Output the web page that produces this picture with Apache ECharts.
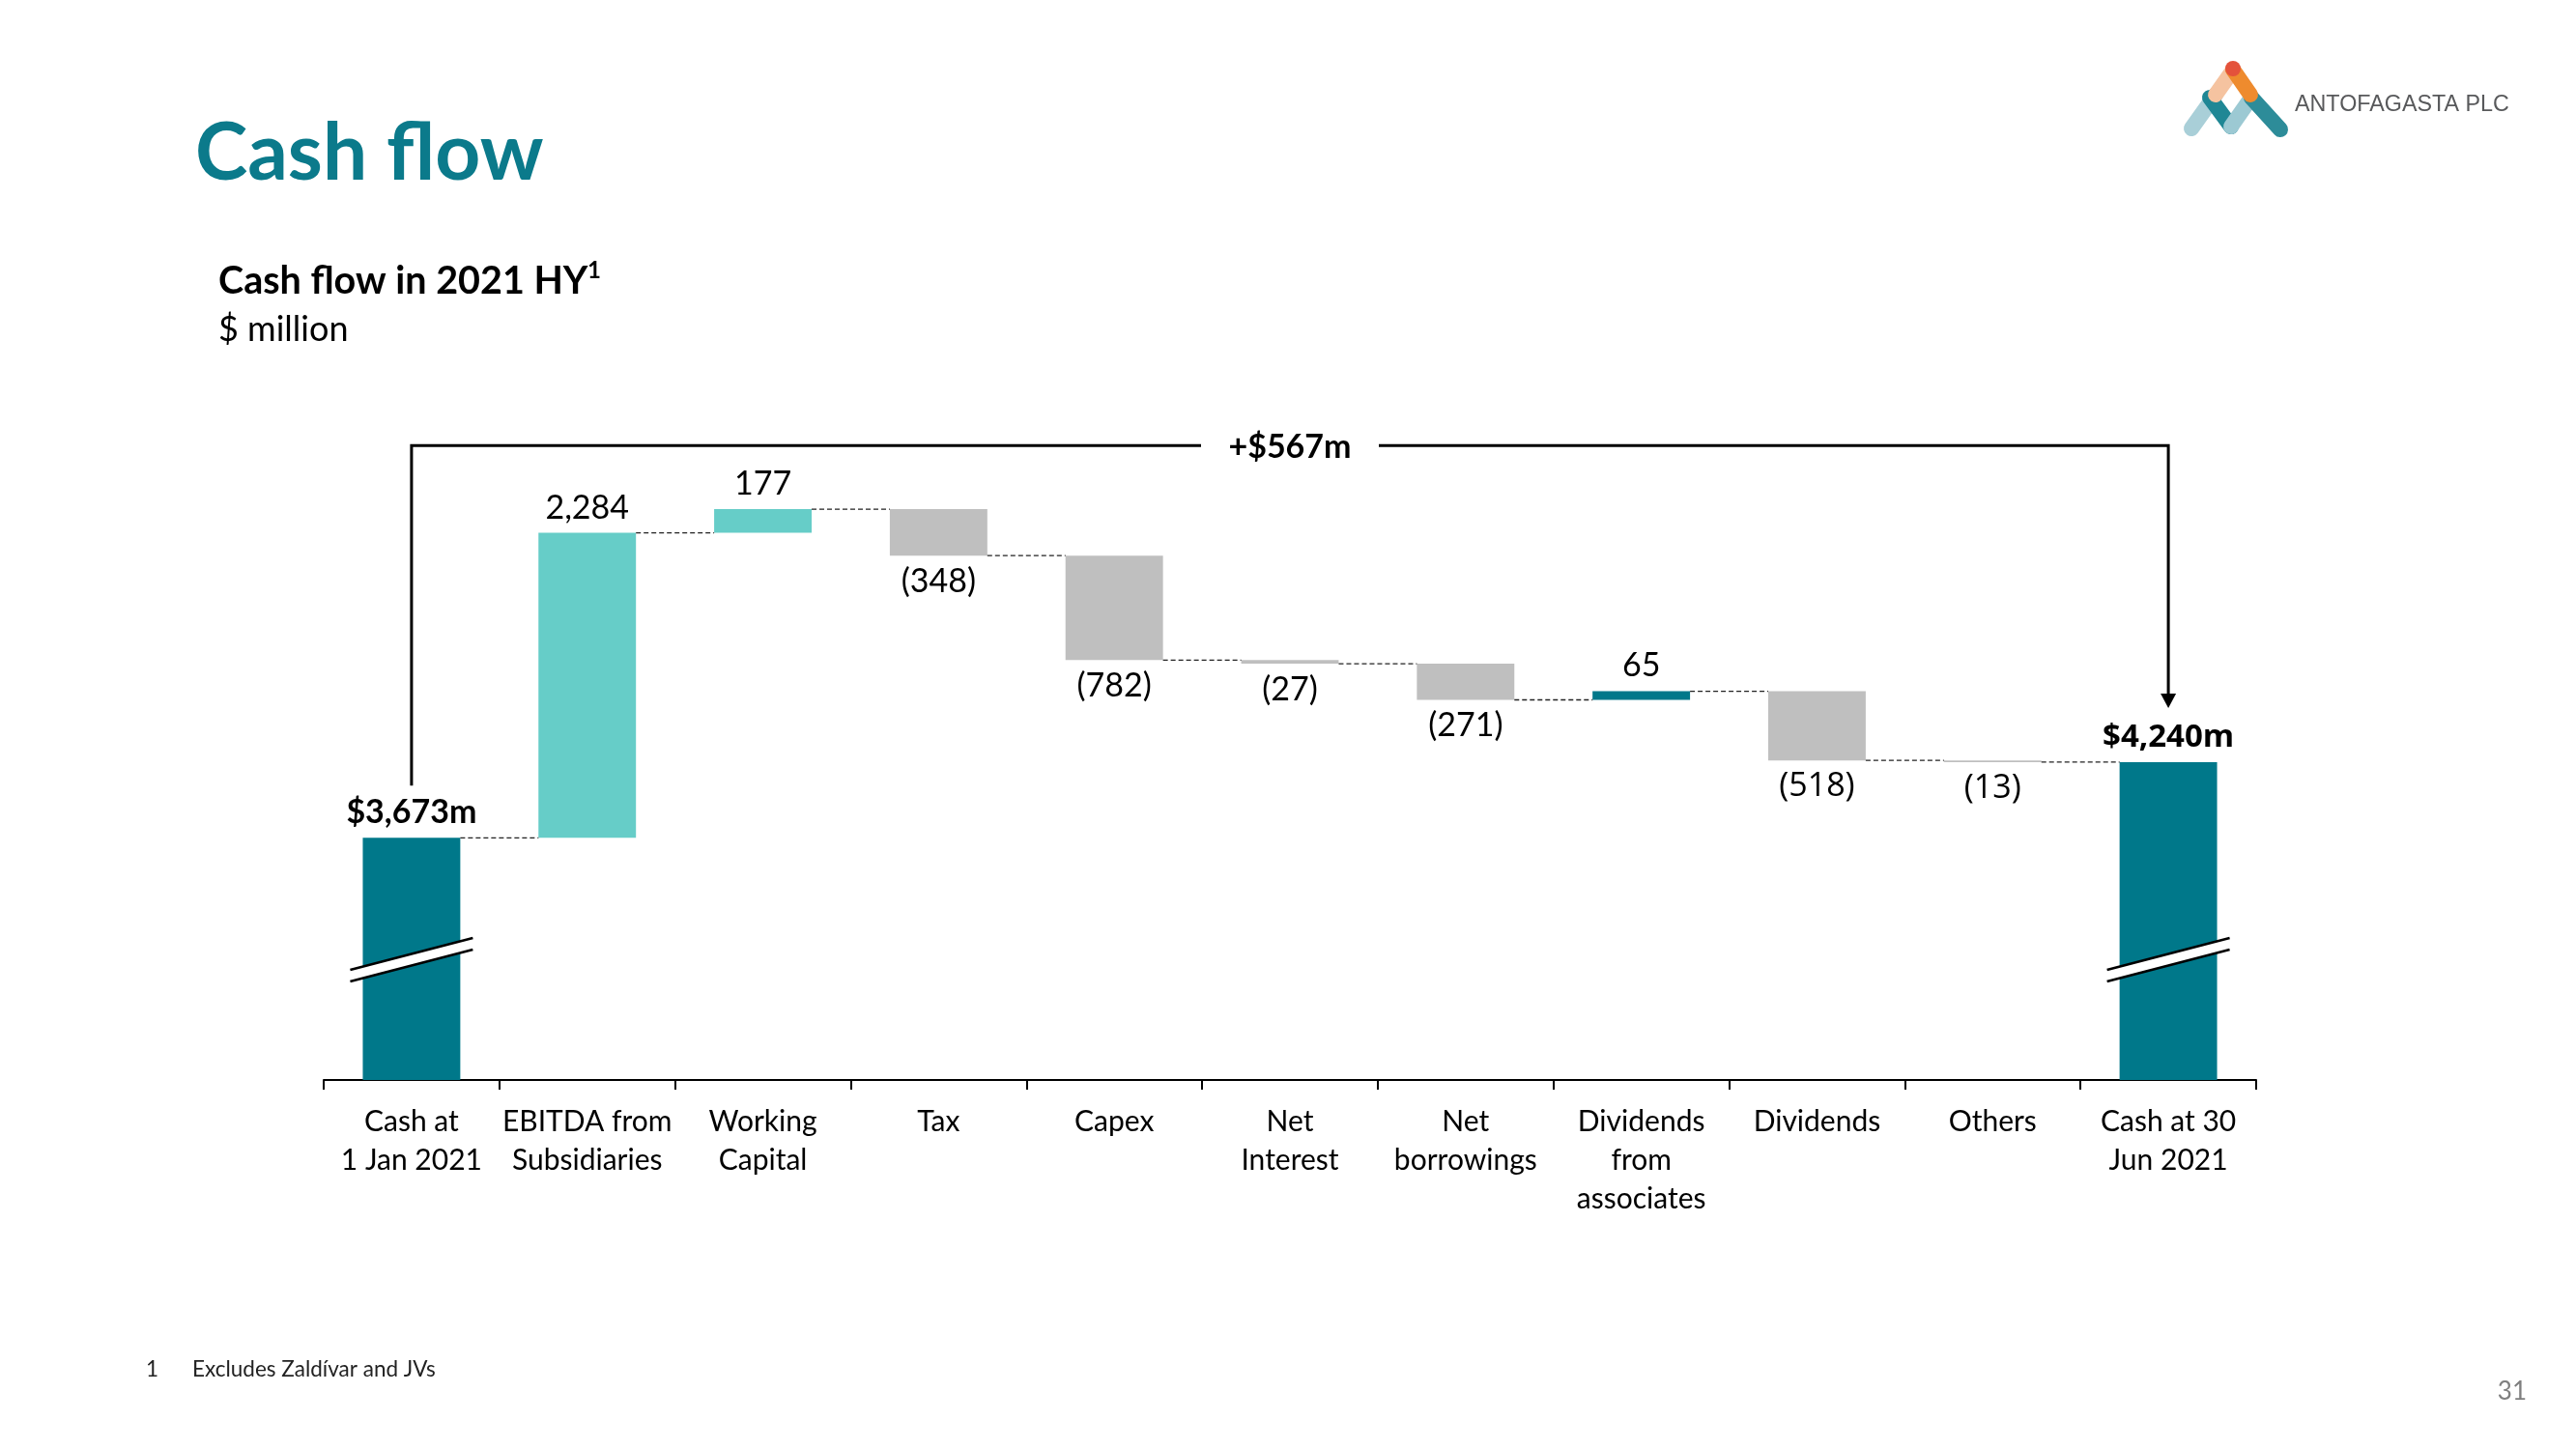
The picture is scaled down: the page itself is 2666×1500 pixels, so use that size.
<!DOCTYPE html>
<html><head><meta charset="utf-8">
<script src="https://cdn.jsdelivr.net/npm/echarts@6/dist/echarts.min.js"></script>
<style>html,body{margin:0;padding:0;background:#fff}#chart{width:2666px;height:1500px}</style>
</head><body><div id="chart"></div>
<script>
// ---------------- DATA ----------------
const categories = ['Cash at\n1 Jan 2021', 'EBITDA from\nSubsidiaries', 'Working\nCapital', 'Tax', 'Capex',
  'Net\nInterest', 'Net\nborrowings', 'Dividends\nfrom\nassociates', 'Dividends', 'Others', 'Cash at 30\nJun 2021'];
const openingCash = 3673;
const movements = [2284, 177, -348, -782, -27, -271, 65, -518, -13];
const closingCash = 4240;
const barKinds = ['total', 'inflow', 'inflow', 'outflow', 'outflow', 'outflow', 'outflow', 'associates', 'outflow', 'outflow', 'total'];
const totalChangeLabel = '+$567m';
const pageTitle = 'Cash flow';
const chartTitle = 'Cash flow in 2021 HY';
const chartUnit = '$ million';
const footnoteNumber = '1';
const footnoteText = 'Excludes Zaldívar and JVs';
const pageNumber = '31';
const companyName = 'ANTOFAGASTA PLC';

// ---------------- STYLE / LAYOUT ----------------
const COLORS = { total: '#00788A', inflow: '#66CDC8', outflow: '#BFBFBF', associates: '#00788A' };
const TEAL = '#0B7A8B';
const Y_MIN = 1860, Y_MAX = 6800;
const BAR_GAP = 0.445;
const BRACKET_LEVEL = 6610;
const BREAK_LEVEL = 2760;
const ALT_FONT_IDX = [8, 9, 10];
const FONT = 'Lato';

// ---------------- DERIVED ----------------
const n = categories.length;
const baseData = [], sizeData = [], levels = [];
let running = openingCash;
baseData.push(0); sizeData.push(openingCash); levels.push(openingCash);
movements.forEach(d => {
  const after = running + d;
  baseData.push(Math.min(running, after));
  sizeData.push(Math.abs(d));
  running = after;
  levels.push(after);
});
baseData.push(0); sizeData.push(closingCash);

function fmt(v) { return v.toLocaleString('en-US'); }
function labelFor(i) {
  if (i === 0) return '$' + fmt(openingCash) + 'm';
  if (i === n - 1) return '$' + fmt(closingCash) + 'm';
  const d = movements[i - 1];
  return d < 0 ? '(' + fmt(-d) + ')' : fmt(d);
}

const visibleData = sizeData.map((v, i) => {
  const kind = barKinds[i];
  const neg = i > 0 && i < n - 1 && movements[i - 1] < 0;
  const alt = ALT_FONT_IDX.includes(i);
  return {
    value: v,
    itemStyle: { color: COLORS[kind] },
    label: {
      show: true,
      position: neg ? 'bottom' : 'top',
      distance: neg ? 10 : 9,
      formatter: labelFor(i),
      fontFamily: alt ? 'Open Sans' : FONT,
      fontSize: alt ? (kind === 'total' ? 33 : 34) : 34,
      fontWeight: kind === 'total' ? 'bold' : 'normal',
      color: '#000'
    }
  };
});

const connectorData = levels.slice(0, n - 1).map((lv, i) => [i, lv]);

const chart = echarts.init(document.getElementById('chart'), null, { renderer: 'canvas' });

function T(text, x, y, s) {
  return { type: 'text', x: x, y: y, silent: true,
    style: Object.assign({ text: text, fill: '#000', fontFamily: FONT, fontSize: 30,
      align: 'left', verticalAlign: 'middle', textAlign: 'left', textVerticalAlign: 'middle' }, s) };
}
function L(x1, y1, x2, y2, color) {
  return { type: 'line', silent: true, shape: { x1, y1, x2, y2 },
    style: { stroke: color, lineWidth: 16, lineCap: 'round' } };
}

const option = {
  animation: false,
  backgroundColor: '#fff',
  grid: { left: 335, right: 331, top: 435, bottom: 382, containLabel: false },
  xAxis: {
    type: 'category', data: categories,
    axisLine: { show: true, lineStyle: { color: '#000', width: 2 } },
    axisTick: { show: true, length: 10, lineStyle: { color: '#000', width: 2 } },
    axisLabel: { interval: 0, fontFamily: FONT, fontSize: 30, color: '#000', lineHeight: 40, margin: 23 },
    splitLine: { show: false }
  },
  yAxis: { type: 'value', min: Y_MIN, max: Y_MAX, show: false, splitLine: { show: false } },
  series: [
    { type: 'bar', stack: 'wf', data: baseData, barCategoryGap: (BAR_GAP * 100) + '%',
      itemStyle: { color: 'transparent' }, silent: true },
    { type: 'bar', stack: 'wf', data: visibleData, barCategoryGap: (BAR_GAP * 100) + '%' },
    { type: 'custom', z: 3, silent: true, data: connectorData,
      renderItem: function (params, api) {
        const i = api.value(0), lv = api.value(1);
        const p = api.coord([i, lv]);
        const half = api.size([1, 0])[0] * (1 - BAR_GAP) / 2;
        const x2 = api.coord([i + 1, lv])[0] - half;
        return { type: 'line', shape: { x1: p[0] + half, y1: p[1], x2: x2, y2: p[1] },
          style: { stroke: '#222', lineWidth: 1.3, lineDash: [5, 3] } };
      } },
    { type: 'custom', z: 6, silent: true, data: [[0, BREAK_LEVEL], [n - 1, BREAK_LEVEL]],
      renderItem: function (params, api) {
        const p = api.coord([api.value(0), api.value(1)]);
        const w = api.size([1, 0])[0] * (1 - BAR_GAP) / 2 + 13;
        const s = 0.26, g = 6;
        const xl = p[0] - w, xr = p[0] + w;
        const yl = p[1] + w * s, yr = p[1] - w * s;
        return { type: 'group', children: [
          { type: 'polygon', shape: { points: [[xl, yl - g], [xr, yr - g], [xr, yr + g], [xl, yl + g]] },
            style: { fill: '#fff' } },
          { type: 'line', shape: { x1: xl, y1: yl - g, x2: xr, y2: yr - g }, style: { stroke: '#000', lineWidth: 2.5 } },
          { type: 'line', shape: { x1: xl, y1: yl + g, x2: xr, y2: yr + g }, style: { stroke: '#000', lineWidth: 2.5 } }
        ] };
      } },
    { type: 'custom', z: 6, silent: true, data: [[0, BRACKET_LEVEL]],
      renderItem: function (params, api) {
        const p0 = api.coord([0, BRACKET_LEVEL]);
        const x1 = api.coord([n - 1, BRACKET_LEVEL])[0];
        const y = p0[1];
        const yStart = api.coord([0, openingCash])[1] - 54;
        const tip = api.coord([n - 1, closingCash])[1] - 56;
        const mid = (p0[0] + x1) / 2;
        const gap = 92;
        const st = { stroke: '#000', lineWidth: 3, fill: null };
        return { type: 'group', children: [
          { type: 'polyline', shape: { points: [[p0[0], yStart], [p0[0], y], [mid - gap, y]] }, style: st },
          { type: 'polyline', shape: { points: [[mid + gap, y], [x1, y], [x1, tip - 14]] }, style: st },
          { type: 'polygon', shape: { points: [[x1 - 8, tip - 15], [x1 + 8, tip - 15], [x1, tip]] }, style: { fill: '#000' } },
          { type: 'text', x: mid, y: y + 2, style: { text: totalChangeLabel, fontFamily: FONT, fontWeight: 'bold', fontSize: 34,
            fill: '#000', align: 'center', verticalAlign: 'middle', textAlign: 'center', textVerticalAlign: 'middle' } }
        ] };
      } }
  ],
  graphic: [
    T(pageTitle, 202, 160, { fill: TEAL, fontWeight: 'bold', fontSize: 82 }),
    T(chartTitle, 226, 291, { fontWeight: 'bold', fontSize: 39.5 }),
    T('1', 608, 280, { fontWeight: 'bold', fontSize: 24 }),
    T(chartUnit, 226, 341, { fontSize: 36 }),
    T(footnoteNumber, 151, 1418, { fontSize: 22.5, fill: '#222' }),
    T(footnoteText, 199, 1418, { fontSize: 22.5, fill: '#222' }),
    T(pageNumber, 2615, 1441, { fontSize: 26, fill: '#7f7f7f', align: 'right', textAlign: 'right' }),
    T(companyName, 2375, 109, { fontFamily: 'Liberation Sans', fontSize: 23.3, fill: '#58595B' }),
    // logo
    L(2268, 133, 2293, 98, '#A9CFD8'),
    L(2287, 101, 2309, 131, '#1F8795'),
    L(2309, 131, 2330, 101, '#9CC9D3'),
    L(2330, 101, 2360, 134, '#2D8C99'),
    L(2293, 98, 2310, 74, '#F5C3A0'),
    L(2311, 72, 2329, 98, '#EE8B2E'),
    { type: 'circle', silent: true, shape: { cx: 2311, cy: 71, r: 8 }, style: { fill: '#E4523B' } }
  ]
};
chart.setOption(option);
</script></body></html>
